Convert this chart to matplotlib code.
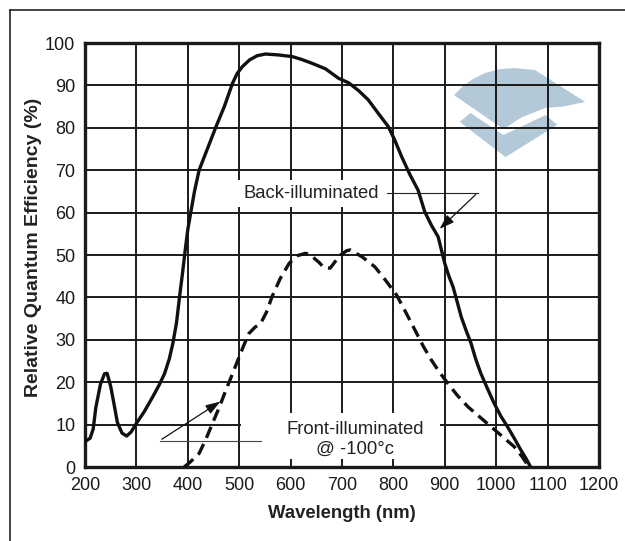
import numpy as np
import matplotlib.pyplot as plt
from matplotlib.patches import Polygon, Rectangle
from matplotlib.lines import Line2D

# back-illuminated curve (nm, %)
back_nm = [200, 210, 216, 221, 230, 238, 243, 250, 257, 263, 272, 281, 290, 300,
           315, 332, 345, 355, 364, 371, 378, 384, 390, 395, 400, 406, 413, 422,
           438, 455, 471, 487, 496, 506, 520, 535, 551, 575, 603, 622, 642, 668,
           693, 713, 732, 751, 770, 790, 803, 816, 832, 848, 861, 874, 887, 900,
           908, 916, 924, 932, 942, 951, 960, 970, 983, 996, 1009, 1022, 1035,
           1048, 1058, 1067]
back_qe = [6.0, 6.8, 9, 14, 19.5, 22, 22.1, 19, 14.5, 10.5, 8, 7.3, 8.3, 10.3,
           13, 16.6, 19.5, 22.1, 25.5, 29.2, 34, 40.2, 46, 51.2, 56, 60.2, 65, 70,
           75, 80.3, 85, 90.5, 92.8, 94.4, 96, 97, 97.4, 97.2, 96.8, 96.1, 95.2, 93.9,
           91.7, 90.6, 88.8, 86.6, 83.5, 80.3, 77, 73.2, 69, 65.3, 60.2, 57, 54.3, 48.0,
           45, 42.5, 39, 35.4, 32, 29.2, 25.5, 22.1, 18.5, 15.0, 12, 9.5, 6.8,
           4.0, 2, 0]

# front-illuminated curve @ -100 C
front_nm = [393, 405, 422, 435, 448, 461, 474, 487, 500, 510, 519, 531, 542, 553,
            564, 580, 597, 612, 629, 640, 648, 655, 665, 677, 687, 697, 709, 716,
            740, 764, 785, 806, 824, 842, 858, 874, 890, 906, 925, 945, 968, 990,
            1012, 1035, 1050, 1064]
front_qe = [0, 1.2, 3.2, 6.5, 10.3, 14, 18.1, 22, 26, 29, 31.5, 33, 33.9, 36.5,
            40.2, 44.5, 48, 49.8, 50.4, 50, 49, 48.3, 47, 46.9, 48.5, 50, 51, 51.2,
            49.5, 47.2, 44, 40.6, 36.5, 32.3, 28.5, 25.2, 22.3, 19.7, 16.8, 14.2, 11.8, 9.5,
            7.2, 4.8, 2.5, 0]

x_ticks = [200, 300, 400, 500, 600, 700, 800, 900, 1000, 1100, 1200]
y_ticks = [0, 10, 20, 30, 40, 50, 60, 70, 80, 90, 100]

# watermark logo outline (nm, %)
logo_top = [(918, 87.7), (935, 89.8), (955, 91.5), (978, 92.9), (1005, 93.8),
            (1036, 94.1), (1076, 93.6), (1173, 86.1), (1130, 85.0), (1096, 84.7),
            (1050, 82.5), (1014, 79.7)]
logo_chev = [(929, 81.4), (950, 83.5), (1014, 78.3), (1096, 83.0), (1119, 80.7),
             (1018, 73.1)]

fnt = ['Liberation Sans', 'DejaVu Sans']
plt.rcParams['font.family'] = fnt

fig = plt.figure(figsize=(6.25, 5.41), dpi=100)
ax = fig.add_axes([85/625, 74/541, 514/625, 424/541])

ax.add_patch(Polygon(logo_top, closed=True, fc='#b4c9d7', ec='none', zorder=0))
ax.add_patch(Polygon(logo_chev, closed=True, fc='#b4c9d7', ec='none', zorder=0))

ax.set_xlim(200, 1200)
ax.set_ylim(0, 100)
ax.set_xticks(x_ticks)
ax.set_yticks(y_ticks)
ax.grid(True, color='#1a1a1a', lw=1.4, zorder=1)
ax.set_axisbelow(True)
ax.tick_params(length=0, labelsize=13, colors='#1a1a1a')
ax.tick_params(axis='x', pad=7)
ax.tick_params(axis='y', pad=7)
for s in ax.spines.values():
    s.set_linewidth(2.4)
    s.set_color('#1a1a1a')

# white boxes behind the labels (they cut the grid)
ax.add_patch(Rectangle((496, 61.3), 290, 6.4, fc='white', ec='none', zorder=2))
ax.add_patch(Rectangle((504, 2.0), 386, 10.7, fc='white', ec='none', zorder=2))

ax.plot(back_nm, back_qe, color='#111111', lw=2.4, solid_joinstyle='round',
        solid_capstyle='round', zorder=4)
ax.plot(front_nm, front_qe, color='#111111', lw=2.4, ls=(0, (3.6, 2.0)), zorder=4)

ax.text(641, 64.4, 'Back-illuminated', ha='center', va='center', fontsize=13.3,
        color='#222222', zorder=3)
ax.text(725, 6.5, 'Front-illuminated\n@ -100°c', ha='center', va='center',
        fontsize=13.3, color='#222222', linespacing=1.2, zorder=3)

# leader lines and arrows
ax.plot([788, 964], [64.7, 64.7], color='#222222', lw=0.8, zorder=5)
ax.annotate('', xy=(886, 55.7), xytext=(964, 64.7),
            arrowprops=dict(arrowstyle='-|>,head_length=0.9,head_width=0.3',
                            color='#111111', lw=0.9), zorder=5)
ax.plot([345, 542], [6.2, 6.2], color='#444444', lw=0.8, zorder=5)
ax.annotate('', xy=(468, 15.8), xytext=(345, 6.2),
            arrowprops=dict(arrowstyle='-|>,head_length=0.9,head_width=0.3',
                            color='#111111', lw=0.9), zorder=5)

ax.set_xlabel('Wavelength (nm)', fontsize=13.3, fontweight='bold',
              color='#222222', labelpad=8)
ax.set_ylabel('Relative Quantum Efficiency (%)', fontsize=14, fontweight='bold',
              color='#222222')
ax.yaxis.set_label_coords(-0.083, 0.519)

# outer frame, left and top edges only
fig.add_artist(Line2D([10/625, 10/625], [0, 1 - 10/541], transform=fig.transFigure,
                      color='#222222', lw=1.2))
fig.add_artist(Line2D([10/625, 1], [1 - 10/541, 1 - 10/541], transform=fig.transFigure,
                      color='#222222', lw=1.2))

fig.savefig('out.png', dpi=100)
